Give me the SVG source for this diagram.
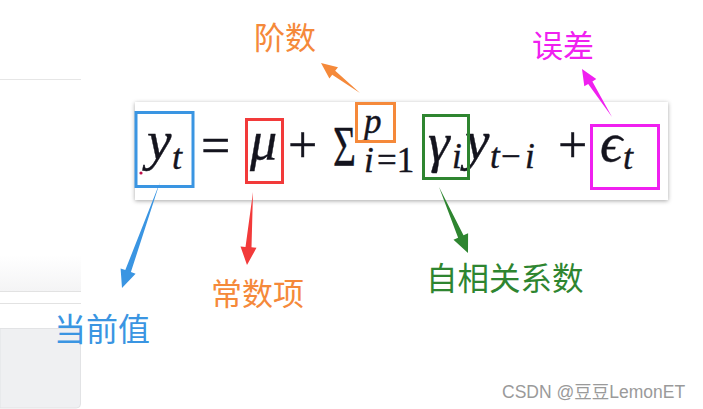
<svg xmlns="http://www.w3.org/2000/svg" width="703" height="409" viewBox="0 0 703 409">
<defs>
<filter id="sh" x="-5%" y="-20%" width="110%" height="140%">
<feDropShadow dx="0" dy="1" stdDeviation="2" flood-color="#000" flood-opacity="0.35"/>
</filter>
<linearGradient id="fade" x1="0" y1="0" x2="0" y2="1">
<stop offset="0" stop-color="#fff"/>
<stop offset="1" stop-color="#f4f4f5"/>
</linearGradient>
</defs>
<style>
.m{font-family:"Liberation Serif","DejaVu Serif",serif;font-style:italic;fill:#14141e;stroke:#14141e;stroke-width:0.4}
.u{font-family:"Liberation Serif","DejaVu Serif",serif;fill:#14141e;stroke:#14141e;stroke-width:0.4}
.cj{font-family:"Noto Sans CJK SC","Noto Sans",sans-serif}
.box{fill:none;stroke-width:3}
</style>
<rect width="703" height="409" fill="#fff"/>
<g id="page-ui">
<line x1="0" y1="79.5" x2="81" y2="79.5" stroke="#e6e6e6"/>
<rect x="0" y="255" width="81" height="36" fill="url(#fade)"/>
<line x1="0" y1="291.5" x2="81" y2="291.5" stroke="#e2e2e2"/>
<line x1="0" y1="303.5" x2="81" y2="303.5" stroke="#e2e2e2"/>
<path d="M0 328.5 H80.5 V404 a4 4 0 0 1 -4 4 H0 Z" fill="#eff0f2" stroke="#e2e3e5"/>
</g>
<g id="formula">
<rect x="135" y="102" width="533" height="98" fill="#fff" filter="url(#sh)"/>
<circle cx="141" cy="173" r="1.6" fill="#c0104a"/>
<text class="m" x="147" y="159" font-size="55">y</text>
<text class="m" x="172" y="169" font-size="36">t</text>
<text class="u" x="201" y="163" font-size="52">=</text>
<text class="m" x="250" y="159" font-size="54">μ</text>
<text class="u" x="288" y="162" font-size="52">+</text>
<text class="u" transform="translate(333,166) scale(0.68,1)" x="0" y="0" font-size="58">Σ</text>
<text class="m" x="364" y="133" font-size="35">p</text>
<text class="m" x="364" y="172" font-size="35">i</text>
<text class="u" x="377" y="172" font-size="35">=1</text>
<text class="m" x="428" y="161" font-size="55">γ</text>
<text class="m" x="452" y="168" font-size="35">i</text>
<text class="m" x="465" y="159" font-size="55">y</text>
<text class="m" x="490" y="168" font-size="35">t</text>
<text class="u" x="501" y="168" font-size="35">−</text>
<text class="m" x="525" y="168" font-size="35">i</text>
<text class="u" x="558" y="162" font-size="52">+</text>
<text class="m" x="600" y="161" font-size="55">ϵ</text>
<text class="m" x="623" y="169" font-size="36">t</text>
</g>
<g id="current-value">
<rect class="box" x="136" y="112.5" width="57" height="74" stroke="#3a95e2"/>
<text class="cj" x="54" y="341" font-size="32" fill="#3a95e2">当前值</text>
</g>
<g id="constant">
<rect class="box" x="246.5" y="119.5" width="36" height="63" stroke="#f23a3a"/>
<text class="cj" x="211" y="305" font-size="31" fill="#f5893a">常数项</text>
</g>
<g id="order">
<rect class="box" x="356.5" y="103.5" width="38" height="38" stroke="#f5893a"/>
<text class="cj" x="254" y="49" font-size="31" fill="#f5893a">阶数</text>
</g>
<g id="autocorr">
<rect class="box" x="423.5" y="115.5" width="45" height="63" stroke="#2e8530"/>
<text class="cj" x="426" y="290" font-size="31.5" fill="#2e8530">自相关系数</text>
</g>
<g id="error">
<rect class="box" x="591.5" y="125.5" width="67" height="63" stroke="#f020f0"/>
<text class="cj" x="532" y="57" font-size="31" fill="#f020f0">误差</text>
</g>
<g id="connectors">
<polygon points="360,93 332.2,74.8 329.4,78.4 321,63 338,67.3 335.2,70.8" fill="#f5893a"/>
<polygon points="612,117 588.2,84 584.3,86.3 582,69 596.3,79.1 592.4,81.4" fill="#f020f0"/>
<polygon points="160,182 130.9,272.1 135.6,273.8 122,288 120.6,268.4 125.3,270.1" fill="#3a95e2"/>
<polygon points="253,192 251.5,247.3 256.5,247.8 247,265 240.5,246.4 245.5,246.9" fill="#f23a3a"/>
<polygon points="439,187 463.5,235.3 468.1,233.3 468,253 453.5,239.7 458.1,237.7" fill="#2e8530"/>
</g>
<g id="watermark">
<text x="502" y="398" font-size="17.5" fill="#9a9a9a" font-family="'Liberation Sans','Noto Sans CJK SC',sans-serif">CSDN @豆豆LemonET</text>
</g>
</svg>
